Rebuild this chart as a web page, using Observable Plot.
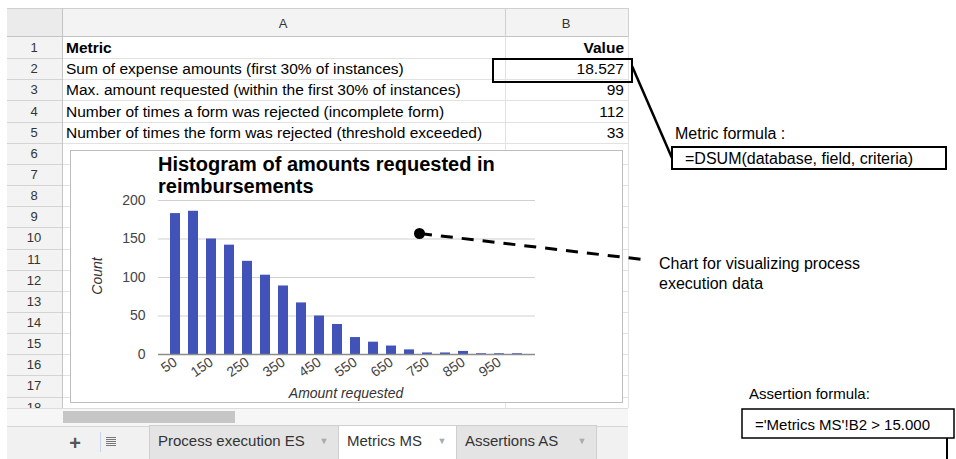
<!DOCTYPE html>
<html><head><meta charset="utf-8">
<script src="https://cdn.jsdelivr.net/npm/d3@7"></script>
<script src="https://cdn.jsdelivr.net/npm/@observablehq/plot@0.6"></script>
<style>
body{margin:0;background:#fff;font-family:"Liberation Sans",Arial,sans-serif;}
#root{position:relative;width:956px;height:459px;overflow:hidden;background:#fff;}
svg.layer{position:absolute;left:0;top:0;}
#chart{position:absolute;left:71px;top:151px;}
</style></head><body><div id="root"><svg class="layer" id="bg" width="956" height="459"></svg><div id="chart"></div><svg class="layer" id="ov" width="956" height="459"></svg></div>
<script>
// ---- data ----
const amounts = [50,100,150,200,250,300,350,400,450,500,550,600,650,700,750,800,850,900,950,1000];
const counts  = [183,186,150,142,121,103,89,67,50,39,22,16,11,6,2,2,4,1,1,1];
const xTickLabels = [50,150,250,350,450,550,650,750,850,950];
const yTicks = [0,50,100,150,200];
const chartTitle = ["Histogram of amounts requested in","reimbursements"];
const xLabel = "Amount requested";
const yLabel = "Count";
const columnLetters = ["A","B"];
const metricNames = ["Metric","Sum of expense amounts (first 30% of instances)","Max. amount requested (within the first 30% of instances)","Number of times a form was rejected (incomplete form)","Number of times the form was rejected (threshold exceeded)"];
const metricValues = ["Value","18.527","99","112","33"];
const sheetTabs = ["Process execution ES","Metrics MS","Assertions AS"];
const metricFormulaLabel = "Metric formula :";
const metricFormula = "=DSUM(database, field, criteria)";
const chartNote = ["Chart for visualizing process","execution data"];
const assertionLabel = "Assertion formula:";
const assertionFormula = "='Metrics MS'!B2 > 15.000";

const FONT = "Liberation Sans, Arial, Helvetica, sans-serif";
const rowH = 21.15, rowTop = n => 37 + (n-1)*rowH;

// ---- spreadsheet background ----
const bg = d3.select("#bg");
bg.append("rect").attr("x",7).attr("y",8).attr("width",621).attr("height",29).attr("fill","#f3f3f3");
bg.append("rect").attr("x",7).attr("y",37).attr("width",55).attr("height",371).attr("fill","#f3f3f3");
bg.append("rect").attr("x",7).attr("y",8).attr("width",55).attr("height",29).attr("fill","#ebebeb");
for (let n = 1; n <= 18; n++) {
  const y = Math.round(rowTop(n+1)) + 0.5;
  if (y > 408) break;
  bg.append("line").attr("x1",7).attr("x2",62).attr("y1",y).attr("y2",y).attr("stroke","#d4d4d4");
  bg.append("line").attr("x1",62).attr("x2",628).attr("y1",y).attr("y2",y).attr("stroke","#e2e2e2");
}
bg.append("line").attr("x1",7).attr("x2",628).attr("y1",8.5).attr("y2",8.5).attr("stroke","#d0d0d0");
bg.append("line").attr("x1",7).attr("x2",628).attr("y1",36.5).attr("y2",36.5).attr("stroke","#c4c4c4");
bg.append("line").attr("x1",62.5).attr("x2",62.5).attr("y1",8).attr("y2",408).attr("stroke","#c4c4c4");
bg.append("line").attr("x1",505.5).attr("x2",505.5).attr("y1",8).attr("y2",37).attr("stroke","#cfcfcf");
bg.append("line").attr("x1",628.5).attr("x2",628.5).attr("y1",8).attr("y2",37).attr("stroke","#cfcfcf");
bg.append("line").attr("x1",505.5).attr("x2",505.5).attr("y1",37).attr("y2",408).attr("stroke","#e2e2e2");
bg.append("line").attr("x1",628.5).attr("x2",628.5).attr("y1",37).attr("y2",408).attr("stroke","#e2e2e2");
bg.selectAll("text.col").data(columnLetters).join("text")
  .attr("x",(d,i)=>[283,566][i]).attr("y",23).attr("text-anchor","middle").attr("dominant-baseline","central")
  .attr("font-family",FONT).attr("font-size",13).attr("fill","#333").text(d=>d);
bg.selectAll("text.row").data(d3.range(1,19)).join("text")
  .attr("x",34).attr("y",n=>rowTop(n)+rowH/2).attr("text-anchor","middle").attr("dominant-baseline","central")
  .attr("font-family",FONT).attr("font-size",13).attr("fill","#333").text(n=>n);
bg.selectAll("text.name").data(metricNames).join("text")
  .attr("x",66).attr("y",(d,i)=>rowTop(i+1)+rowH/2).attr("dominant-baseline","central")
  .attr("font-family",FONT).attr("font-size",15.5).attr("font-weight",(d,i)=>i?400:700).attr("fill","#000").text(d=>d);
bg.selectAll("text.val").data(metricValues).join("text")
  .attr("x",624).attr("y",(d,i)=>rowTop(i+1)+rowH/2).attr("text-anchor","end").attr("dominant-baseline","central")
  .attr("font-family",FONT).attr("font-size",15.5).attr("font-weight",(d,i)=>i?400:700).attr("fill","#000").text(d=>d);
// scroll area
bg.append("rect").attr("x",7).attr("y",408).attr("width",621).attr("height",18).attr("fill","#f6f6f6");
bg.append("line").attr("x1",7).attr("x2",628).attr("y1",408.5).attr("y2",408.5).attr("stroke","#dcdcdc");
bg.append("rect").attr("x",63).attr("y",411).attr("width",172).attr("height",12).attr("fill","#c6c6c6");
// tab bar
bg.append("rect").attr("x",7).attr("y",426).attr("width",621).attr("height",33).attr("fill","#f1f1f1");
bg.append("line").attr("x1",7).attr("x2",628).attr("y1",426.5).attr("y2",426.5).attr("stroke","#d6d6d6");
bg.append("text").attr("x",75).attr("y",443).attr("text-anchor","middle").attr("dominant-baseline","central")
  .attr("font-family",FONT).attr("font-size",20).attr("font-weight",700).attr("fill","#555").text("+");
bg.append("line").attr("x1",100.5).attr("x2",100.5).attr("y1",432).attr("y2",452).attr("stroke","#c9d3ee");
for (let k = 0; k < 5; k++) bg.append("line").attr("x1",106).attr("x2",116).attr("y1",437.5+k*2).attr("y2",437.5+k*2).attr("stroke","#777");
const tabX = [[149,338],[338,456],[456,596]];
sheetTabs.forEach((t,i)=>{
  const [a,b] = tabX[i];
  bg.append("rect").attr("x",a+0.5).attr("y",425.5).attr("width",b-a).attr("height",40)
    .attr("fill", i===1 ? "#ffffff" : "#e4e4e4").attr("stroke","#cfcfcf");
  bg.append("text").attr("x",a+9).attr("y",440).attr("dominant-baseline","central")
    .attr("font-family",FONT).attr("font-size",15).attr("fill","#333").text(t);
  bg.append("text").attr("x",b-14).attr("y",441).attr("text-anchor","middle").attr("dominant-baseline","central")
    .attr("font-family",FONT).attr("font-size",9).attr("fill","#aaa").text("▼");
});
bg.append("rect").attr("x",70.5).attr("y",150.5).attr("width",552).attr("height",252)
  .attr("fill","#fff").attr("stroke","#bdbdbd");

// ---- histogram (Plot) ----
const data = amounts.map((a,i)=>({amount:a, count:counts[i]}));
const plot = Plot.plot({
  width: 551, height: 251,
  marginLeft: 87, marginRight: 87, marginTop: 49, marginBottom: 48,
  style: {fontFamily: FONT, fontSize: "14px", color: "#444", background: "transparent", overflow: "visible"},
  x: {type: "band", domain: amounts, padding: 0.42, label: null},
  y: {domain: [0, 200], label: null},
  marks: [
    Plot.gridY(yTicks, {stroke: "#d0d0d0", strokeOpacity: 1}),
    Plot.barY(data, {x: "amount", y: "count", fill: "#4153b9"}),
    Plot.ruleY([0], {stroke: "#8c8c8c", strokeWidth: 1.5}),
    Plot.axisY(yTicks, {tickSize: 0, tickPadding: 13, label: null}),
    Plot.axisX(xTickLabels, {tickSize: 0, tickPadding: 6, tickRotate: -35, label: null})
  ]
});
document.getElementById("chart").appendChild(plot);

// ---- overlay ----
const ov = d3.select("#ov");
chartTitle.forEach((t,i)=> ov.append("text").attr("x",158).attr("y",171+i*22)
  .attr("font-family",FONT).attr("font-size",20).attr("font-weight",700).attr("fill","#000").text(t));
ov.append("text").attr("transform","translate(97,276) rotate(-90)").attr("text-anchor","middle").attr("dominant-baseline","central")
  .attr("font-family",FONT).attr("font-size",14).attr("font-style","italic").attr("fill","#333").text(yLabel);
ov.append("text").attr("x",346).attr("y",393).attr("text-anchor","middle").attr("dominant-baseline","central")
  .attr("font-family",FONT).attr("font-size",14).attr("font-style","italic").attr("fill","#333").text(xLabel);
ov.append("rect").attr("x",493).attr("y",59).attr("width",139).attr("height",23).attr("fill","none").attr("stroke","#000").attr("stroke-width",2);
ov.append("line").attr("x1",632).attr("y1",66).attr("x2",672).attr("y2",158).attr("stroke","#000").attr("stroke-width",2.5);
ov.append("text").attr("x",675).attr("y",133).attr("dominant-baseline","central")
  .attr("font-family",FONT).attr("font-size",16).attr("fill","#000").text(metricFormulaLabel);
ov.append("rect").attr("x",672).attr("y",147).attr("width",274).attr("height",22).attr("fill","#fff").attr("stroke","#000").attr("stroke-width",2);
ov.append("text").attr("x",685).attr("y",158).attr("dominant-baseline","central")
  .attr("font-family",FONT).attr("font-size",16).attr("fill","#000").text(metricFormula);
ov.append("line").attr("x1",420).attr("y1",233.5).attr("x2",647).attr("y2",260).attr("stroke","#000").attr("stroke-width",3).attr("stroke-dasharray","12,9");
ov.append("circle").attr("cx",419.5).attr("cy",233.5).attr("r",5.5).attr("fill","#000");
chartNote.forEach((t,i)=> ov.append("text").attr("x",659).attr("y",263+i*20).attr("dominant-baseline","central")
  .attr("font-family",FONT).attr("font-size",16).attr("fill","#000").text(t));
ov.append("text").attr("x",749).attr("y",393).attr("dominant-baseline","central")
  .attr("font-family",FONT).attr("font-size",15).attr("fill","#000").text(assertionLabel);
ov.append("rect").attr("x",742).attr("y",409).attr("width",212).attr("height",29).attr("fill","#fff").attr("stroke","#000").attr("stroke-width",1.5);
ov.append("text").attr("x",755).attr("y",424).attr("dominant-baseline","central")
  .attr("font-family",FONT).attr("font-size",15).attr("fill","#000").text(assertionFormula);
ov.append("line").attr("x1",947).attr("y1",438).attr("x2",947).attr("y2",459).attr("stroke","#000").attr("stroke-width",2);
</script></body></html>
